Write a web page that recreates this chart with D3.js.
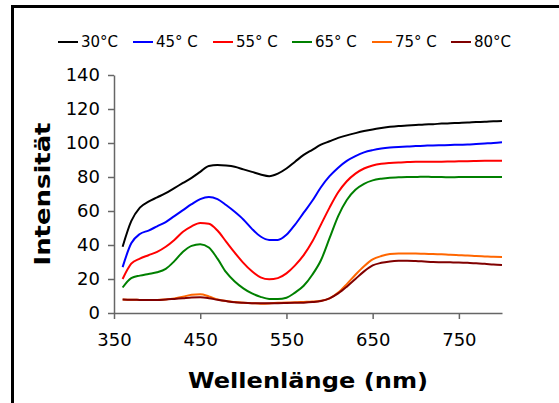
<!DOCTYPE html>
<html>
<head>
<meta charset="utf-8">
<script src="https://cdn.jsdelivr.net/npm/d3@7"></script>
<style>
  html, body { margin: 0; padding: 0; background: #fff; }
  svg { display: block; font-family: "DejaVu Sans", Verdana, sans-serif; }
</style>
</head>
<body>
<div id="chart"></div>
<script>
// Wavelengths (nm) at which the spectra were sampled
const wavelengths = [360,370,380,390,400,410,420,430,440,450,460,470,480,490,500,510,520,530,540,550,
  560,570,580,590,600,610,620,630,640,650,660,670,680,690,700,710,720,730,740,750,760,770,780,790,800];

const seriesNames = ["30°C", "45° C", "55° C", "65° C", "75° C", "80°C"];
const seriesColors = ["#000000", "#0000ff", "#ff0000", "#008000", "#ff6600", "#800000"];

const t30 = [39,54,62,65.5,68,70.5,73.5,76.5,79.5,83,86.5,87,86.7,86,84.5,83,81.5,80.5,82,85,
  89,93,96,99,101,103,104.5,105.8,107,108,108.8,109.5,110,110.3,110.6,110.9,111.1,111.4,111.6,111.8,112,112.3,112.5,112.8,113];
const t45 = [27,41,46.5,48.5,51,53.5,57,60.5,64,67,68.3,67,63.5,59.5,55,49.5,45,43,43,46,
  52,59,66,74,80.5,85.5,89.5,92.3,94.5,95.8,96.7,97.3,97.7,98,98.2,98.4,98.6,98.7,98.8,99,99.1,99.4,99.7,100,100.4];
const t55 = [20,29,32,34,36,39,43,47.8,51,53,52.5,48.5,42,35.5,29.5,24.5,21,19.8,20.5,23.3,
  28,34,42,52,62,71,77.5,82,85,86.8,87.8,88.3,88.6,88.8,89,89,89,89,89.1,89.2,89.3,89.4,89.5,89.6,89.6];
const t65 = [15,20.5,22,23,24,26,30.5,36,39.5,40.5,38.5,32,24,18.5,14.5,11.5,9.5,8.3,8.2,9,
  12,16,22.5,31,44,57,66.5,72.5,76,78,79,79.6,79.8,80,80,80.2,80,80,79.8,80,80,80,80,80,80];
const t75 = [8,7.8,7.7,7.6,7.6,8,8.6,9.5,10.8,11,9.8,8,7,6.5,6,5.8,5.5,5.6,6,6.2,
  6.3,6.5,6.7,7.2,8.6,12,17,22.5,27.5,31.5,33.5,34.7,35,35,35,34.8,34.7,34.5,34.2,34,33.8,33.5,33.3,33.1,33];
const t80 = [8,7.8,7.7,7.6,7.6,7.9,8.3,8.7,9.1,9.2,8.7,7.8,7,6.3,6,5.8,5.7,5.7,5.8,5.9,
  6,6.1,6.4,7,8.6,11.5,15.5,20,24.5,28,29.5,30.3,30.7,30.8,30.6,30.3,30,29.9,29.8,29.7,29.5,29.2,28.9,28.5,28.2];

const xTicks = [350, 450, 550, 650, 750];
const yTicks = [0, 20, 40, 60, 80, 100, 120, 140];

const allSeries = [t30, t45, t55, t65, t75, t80];

const W = 559, H = 403;
const svg = d3.select("#chart").append("svg").attr("width", W).attr("height", H);

// outer chart frame (left and top edges)
svg.append("rect")
  .attr("x", 12.5).attr("y", 6.5)
  .attr("width", 700).attr("height", 600)
  .attr("fill", "none").attr("stroke", "#000").attr("stroke-width", 3);

const plot = { left: 114, right: 502, top: 75, bottom: 313 };

const x = d3.scaleLinear().domain([350, 800]).range([plot.left, plot.right]);
const y = d3.scaleLinear().domain([0, 140]).range([plot.bottom, plot.top]);

// y axis
const yAxis = svg.append("g")
  .attr("transform", `translate(${plot.left},0)`)
  .call(d3.axisLeft(y).tickValues(yTicks).tickSize(6).tickPadding(8).tickSizeOuter(0));
// x axis
const xAxis = svg.append("g")
  .attr("transform", `translate(0,${plot.bottom})`)
  .call(d3.axisBottom(x).tickValues(xTicks).tickSize(6).tickPadding(14).tickSizeOuter(0));

[yAxis, xAxis].forEach(g => {
  g.select(".domain").attr("stroke", "#666").attr("stroke-width", 1.5);
  g.selectAll(".tick line").attr("stroke", "#666").attr("stroke-width", 1.5);
  g.selectAll(".tick text").attr("fill", "#000").style("font-size", "18px")
    .style("font-family", '"DejaVu Sans", Verdana, sans-serif');
});

// spectra
const line = d3.line()
  .x((d, i) => x(wavelengths[i]))
  .y(d => y(d))
  .curve(d3.curveMonotoneX);

svg.append("g").selectAll("path")
  .data(allSeries)
  .join("path")
  .attr("d", d => line(d))
  .attr("fill", "none")
  .attr("stroke", (d, i) => seriesColors[i])
  .attr("stroke-width", 2)
  .attr("stroke-linejoin", "round");

// axis titles
svg.append("text")
  .attr("transform", `translate(50,${(plot.top + plot.bottom) / 2}) rotate(-90)`)
  .attr("text-anchor", "middle")
  .attr("textLength", 143).attr("lengthAdjust", "spacingAndGlyphs")
  .style("font-size", "22px").style("font-weight", "bold")
  .text("Intensität");

svg.append("text")
  .attr("x", (plot.left + plot.right) / 2).attr("y", 388)
  .attr("text-anchor", "middle")
  .attr("textLength", 240).attr("lengthAdjust", "spacingAndGlyphs")
  .style("font-size", "22px").style("font-weight", "bold")
  .text("Wellenlänge (nm)");

// legend
const legendX = [58, 133, 213, 292, 372, 451];
const legend = svg.append("g").selectAll("g")
  .data(seriesNames)
  .join("g")
  .attr("transform", (d, i) => `translate(${legendX[i]},42)`);
legend.append("line")
  .attr("x1", 0).attr("x2", 20).attr("y1", 0).attr("y2", 0)
  .attr("stroke", (d, i) => seriesColors[i]).attr("stroke-width", 2);
legend.append("text")
  .attr("x", 23).attr("y", 0).attr("dy", "0.36em")
  .style("font-size", "15px")
  .text(d => d);
</script>
</body>
</html>
